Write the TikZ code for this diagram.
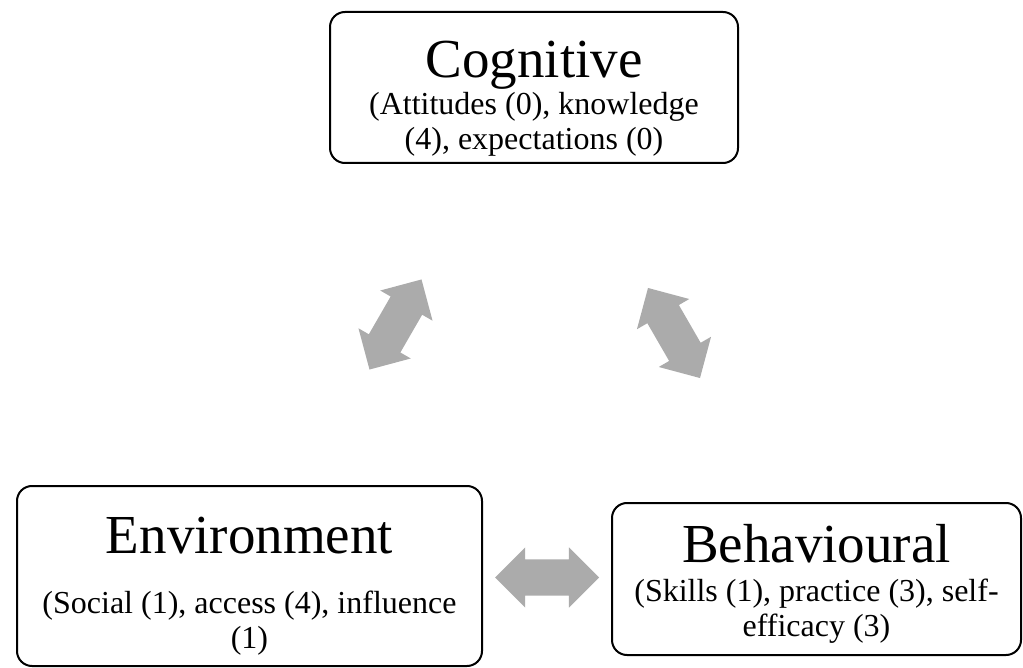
\documentclass[tikz,border=0pt]{standalone}
\usepackage{fontspec}
\setmainfont{Liberation Serif}
\usepackage{tikz}
\usetikzlibrary{shapes.arrows,calc}

\definecolor{arrowgray}{RGB}{171,171,171}
\newcommand{\titlefont}{\fontsize{55}{60}\selectfont}
\newcommand{\subfont}{\fontsize{32}{35}\selectfont}

\tikzset{
  factorbox/.style={draw=black, line width=2pt, rounded corners=15pt,
    fill=white, align=center, font=\subfont, inner sep=0pt},
  dblarrow/.style={double arrow, fill=arrowgray, draw=none,
    inner xsep=0pt, inner ysep=18pt, minimum height=104pt,
    double arrow head extend=12pt, double arrow tip angle=90}
}

\begin{document}
\begin{tikzpicture}[x=1pt,y=-1pt]
        \useasboundingbox (0,0) rectangle (1023,668);
        % the three factors (rules push the text a bit down)
        \node[factorbox, minimum width=408pt, minimum height=151pt] (cog) at (534,87.5)
          {\rule{0pt}{58pt}{\titlefont Cognitive}\\[2pt](Attitudes (0), knowledge\\(4), expectations (0)};
        \node[factorbox, minimum width=465pt, minimum height=180pt] (env) at (249.5,576)
          {\rule{0pt}{57pt}{\titlefont Environment}\\[25pt](Social (1), access (4), influence\\(1)};
        \node[factorbox, minimum width=409pt, minimum height=152pt] (beh) at (816.5,579)
          {\rule{0pt}{48pt}{\titlefont Behavioural}\\[4pt](Skills (1), practice (3), self-\\efficacy (3)};
        % arrows between them
        \node[dblarrow, rotate=60]  (cogenv) at (395.5,324.5) {};
        \node[dblarrow, rotate=-60] (cogbeh) at (674,333) {};
        \node[dblarrow] (envbeh) at ($(env.east)!0.5!(beh.west)$) {};
      \end{tikzpicture}
\end{document}
